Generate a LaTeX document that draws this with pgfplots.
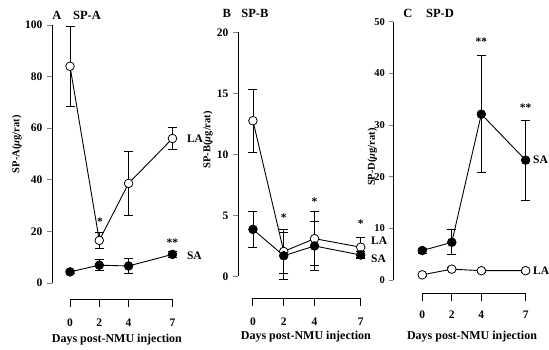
\documentclass[border=0pt]{standalone}
\usepackage{pgfplots}
\pgfplotsset{compat=1.18}
\usepackage{fontspec}
\setmainfont{Liberation Serif}
\begin{document}
\begin{tikzpicture}[font=\fontsize{11.5}{13}\selectfont\bfseries]
\path[use as bounding box] (0pt,0pt) rectangle (549pt,350pt);
\pgfplotsset{
 panel/.style={scale only axis, axis x line=none, axis y line=left,
   axis line style={-, line width=0.9pt}, tick align=outside, major tick length=5pt,
   ytick style={line width=0.9pt}, clip=false, anchor=south west,
   yticklabel style={font=\fontsize{11.5}{11.5}\selectfont\bfseries, xshift=-1pt},
   /pgf/number format/assume math mode=true},
 la/.style={black, line width=0.9pt, mark=*, mark size=4.3pt,
   mark options={fill=white, line width=0.8pt},
   error bars/.cd, y dir=both, y explicit,
   error bar style={line width=0.8pt},
   error mark options={rotate=90, mark size=4.5pt, line width=0.8pt}},
 sa/.style={black, line width=0.9pt, mark=*, mark size=4.3pt,
   mark options={fill=black, line width=0.8pt},
   error bars/.cd, y dir=both, y explicit,
   error bar style={line width=0.8pt},
   error mark options={rotate=90, mark size=4.5pt, line width=0.8pt}},
}
\newcommand\xl{\fontsize{12}{12}\selectfont\bfseries}
\newcommand\tl{\fontsize{12.5}{12.5}\selectfont\bfseries}
\newcommand\yl{\fontsize{10.5}{10.5}\selectfont\bfseries}
% ---------------- Panel A ----------------
\begin{axis}[panel, at={(52pt,67pt)}, xmin=-1.23, xmax=8, ymin=0, ymax=100,
  width=135.1pt, height=258pt, ytick={0,20,40,60,80,100}]
\addplot[la] coordinates {(0,84) +- (0,15.5) (2,16.5) +- (0,3) (4,38.6) +- (0,12.4) (7,56) +- (0,4.3)};
\addplot[sa] coordinates {(0,4.3) +- (0,0.4) (2,6.9) +- (0,2.1) (4,6.6) +- (0,2.9) (7,11.1) +- (0,1)};
\draw[line width=0.9pt] ([yshift=-16pt]axis cs:0,0) -- ([yshift=-16pt]axis cs:7,0);
\draw[line width=0.9pt] ([yshift=-16pt]axis cs:0,0) -- ([yshift=-24pt]axis cs:0,0);
\draw[line width=0.9pt] ([yshift=-16pt]axis cs:2,0) -- ([yshift=-24pt]axis cs:2,0);
\draw[line width=0.9pt] ([yshift=-16pt]axis cs:4,0) -- ([yshift=-24pt]axis cs:4,0);
\draw[line width=0.9pt] ([yshift=-16pt]axis cs:7,0) -- ([yshift=-24pt]axis cs:7,0);
\node at ([yshift=-40pt]axis cs:0,0) {0};
\node at ([yshift=-40pt]axis cs:2,0) {2};
\node at ([yshift=-40pt]axis cs:4,0) {4};
\node at ([yshift=-40pt]axis cs:7,0) {7};
\node[font=\xl] at ([yshift=-57pt]axis cs:3.2,0) {Days post-NMU injection};
\node[font=\tl] at ([yshift=10pt]axis cs:-0.89,100) {A};
\node[font=\tl] at ([yshift=10pt]axis cs:1.16,100) {SP-A};
\node[rotate=90,font=\yl] at ([xshift=-35pt]axis cs:-1.23,53.8) {SP-A({\itshape μ}g/rat)};
\node at (axis cs:2.05,23.7) {*};
\node at (axis cs:7,15.5) {**};
\node[anchor=west] at ([xshift=11pt]axis cs:7,56) {LA};
\node[anchor=west] at ([xshift=11pt]axis cs:7,10.7) {SA};
\end{axis}
% ---------------- Panel B ----------------
\begin{axis}[panel, at={(238pt,73.5pt)}, xmin=-0.97, xmax=8, ymin=0, ymax=20,
  width=138.1pt, height=244.2pt, ytick={0,5,10,15,20}]
\addplot[la] coordinates {(0,12.76) +- (0,2.6) (2,2.05) +- (0,1.8) (4,3.1) +- (0,2.2) (7,2.4) +- (0,0.8)};
\addplot[sa] coordinates {(0,3.86) +- (0,1.5) (2,1.7) +- (0,1.9) (4,2.5) +- (0,2.0) (7,1.76) +- (0,0.3)};
\draw[line width=0.9pt] ([yshift=-21.5pt]axis cs:0,0) -- ([yshift=-21.5pt]axis cs:7,0);
\draw[line width=0.9pt] ([yshift=-21.5pt]axis cs:0,0) -- ([yshift=-29.5pt]axis cs:0,0);
\draw[line width=0.9pt] ([yshift=-21.5pt]axis cs:2,0) -- ([yshift=-29.5pt]axis cs:2,0);
\draw[line width=0.9pt] ([yshift=-21.5pt]axis cs:4,0) -- ([yshift=-29.5pt]axis cs:4,0);
\draw[line width=0.9pt] ([yshift=-21.5pt]axis cs:7,0) -- ([yshift=-29.5pt]axis cs:7,0);
\node at ([yshift=-45.5pt]axis cs:0,0) {0};
\node at ([yshift=-45.5pt]axis cs:2,0) {2};
\node at ([yshift=-45.5pt]axis cs:4,0) {4};
\node at ([yshift=-45.5pt]axis cs:7,0) {7};
\node[font=\xl] at ([yshift=-60.5pt]axis cs:3.44,0) {Days post-NMU injection};
\node[font=\tl] at ([yshift=19pt]axis cs:-1.7,20) {B};
\node[font=\tl] at ([yshift=19pt]axis cs:0.13,20) {SP-B};
\node[rotate=90,font=\yl] at ([xshift=-30pt]axis cs:-0.97,11.2) {SP-B({\itshape μ}g/rat)};
\node at (axis cs:2,4.8) {*};
\node at (axis cs:4,6.1) {*};
\node at (axis cs:7,4.3) {*};
\node[anchor=west] at ([xshift=7pt]axis cs:7,2.95) {LA};
\node[anchor=west] at ([xshift=7pt]axis cs:7,1.45) {SA};
\end{axis}
% ---------------- Panel C ----------------
\begin{axis}[panel, at={(393.3pt,70pt)}, xmin=-1.96, xmax=8, ymin=0, ymax=50,
  width=147.1pt, height=258.3pt, ytick={0,10,20,30,40,50}, major tick length=4pt,
  yticklabel style={font=\fontsize{10.5}{10.5}\selectfont\bfseries, xshift=0pt}]
\addplot[la] coordinates {(0,1.0) +- (0,0.3) (2,2.1) +- (0,0.3) (4,1.8) +- (0,0.3) (7,1.8) +- (0,0.3)};
\addplot[sa] coordinates {(0,5.7) +- (0,0.5) (2,7.3) +- (0,2.4) (4,32.1) +- (0,11.3) (7,23.2) +- (0,7.7)};
\draw[line width=0.9pt] ([yshift=-13.3pt]axis cs:0,0) -- ([yshift=-13.3pt]axis cs:7,0);
\draw[line width=0.9pt] ([yshift=-13.3pt]axis cs:0,0) -- ([yshift=-21.3pt]axis cs:0,0);
\draw[line width=0.9pt] ([yshift=-13.3pt]axis cs:2,0) -- ([yshift=-21.3pt]axis cs:2,0);
\draw[line width=0.9pt] ([yshift=-13.3pt]axis cs:4,0) -- ([yshift=-21.3pt]axis cs:4,0);
\draw[line width=0.9pt] ([yshift=-13.3pt]axis cs:7,0) -- ([yshift=-21.3pt]axis cs:7,0);
\node at ([yshift=-35pt]axis cs:0,0) {0};
\node at ([yshift=-35pt]axis cs:2,0) {2};
\node at ([yshift=-35pt]axis cs:4,0) {4};
\node at ([yshift=-35pt]axis cs:7,0) {7};
\node[font=\xl] at ([yshift=-56.7pt]axis cs:3.37,0) {Days post-NMU injection};
\node[font=\tl] at ([yshift=8.7pt]axis cs:-0.97,50) {C};
\node[font=\tl] at ([yshift=8.7pt]axis cs:1.2,50) {SP-D};
\node[rotate=90,font=\yl] at ([xshift=-21pt]axis cs:-1.96,23.8) {SP-D({\itshape μ}g/rat)};
\node at (axis cs:4,46.1) {**};
\node at (axis cs:7,33.3) {**};
\node[anchor=west] at ([xshift=4pt]axis cs:7,23.2) {SA};
\node[anchor=west] at ([xshift=4pt]axis cs:7,1.8) {LA};
\end{axis}
\end{tikzpicture}
\end{document}
